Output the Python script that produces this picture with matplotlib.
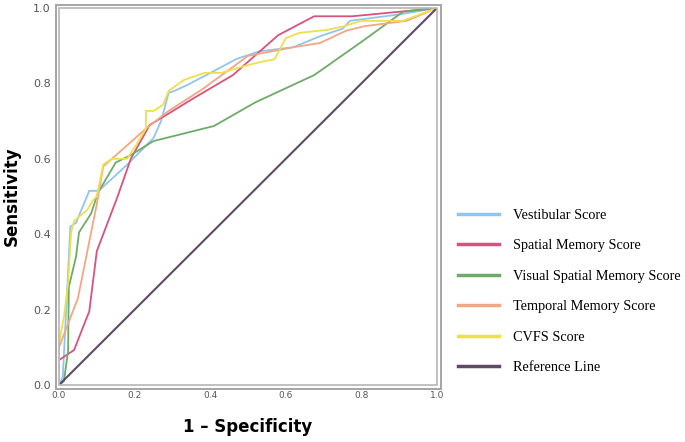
import matplotlib
matplotlib.use("Agg")
import matplotlib.pyplot as plt
from matplotlib.patches import Rectangle

# ROC curve points (1 - specificity, sensitivity)
vest_x = [0, 0.01, 0.03, 0.045, 0.08, 0.105, 0.18, 0.25, 0.27, 0.29, 0.305, 0.34, 0.41, 0.47, 0.53, 0.62, 0.69, 0.75, 0.77, 0.90, 1.0]
vest_y = [0, 0.02, 0.42, 0.43, 0.515, 0.515, 0.584, 0.655, 0.70, 0.775, 0.78, 0.796, 0.833, 0.865, 0.885, 0.896, 0.925, 0.945, 0.966, 0.983, 1.0]

spat_x = [0, 0, 0.04, 0.07, 0.08, 0.10, 0.155, 0.19, 0.24, 0.29, 0.35, 0.46, 0.52, 0.58, 0.675, 0.775, 0.90, 1.0]
spat_y = [0, 0.066, 0.093, 0.17, 0.195, 0.355, 0.50, 0.60, 0.69, 0.72, 0.757, 0.822, 0.875, 0.928, 0.978, 0.978, 0.99, 1.0]

vis_x = [0, 0.013, 0.024, 0.026, 0.045, 0.053, 0.085, 0.103, 0.15, 0.19, 0.25, 0.41, 0.52, 0.675, 0.80, 0.91, 1.0]
vis_y = [0, 0.01, 0.09, 0.26, 0.34, 0.405, 0.455, 0.51, 0.59, 0.61, 0.647, 0.687, 0.75, 0.822, 0.91, 0.99, 1.0]

temp_x = [0, 0, 0.05, 0.10, 0.117, 0.14, 0.23, 0.29, 0.38, 0.50, 0.62, 0.69, 0.76, 0.81, 0.92, 1.0]
temp_y = [0, 0.10, 0.23, 0.48, 0.58, 0.60, 0.68, 0.727, 0.785, 0.873, 0.896, 0.907, 0.94, 0.952, 0.966, 1.0]

cvfs_x = [0, 0, 0.013, 0.024, 0.032, 0.04, 0.075, 0.09, 0.10, 0.117, 0.14, 0.18, 0.20, 0.23, 0.23, 0.25, 0.275, 0.29,
          0.33, 0.385, 0.43, 0.49, 0.53, 0.57, 0.60, 0.635, 0.71, 0.755, 0.80, 0.91, 1.0]
cvfs_y = [0, 0.11, 0.18, 0.27, 0.405, 0.435, 0.465, 0.49, 0.50, 0.585, 0.60, 0.60, 0.63, 0.68, 0.727, 0.727, 0.743, 0.78,
          0.809, 0.828, 0.828, 0.846, 0.856, 0.864, 0.92, 0.934, 0.942, 0.952, 0.966, 0.966, 1.0]

ref_x = [0, 1]
ref_y = [0, 1]

labels = ["Vestibular Score", "Spatial Memory Score", "Visual Spatial Memory Score",
          "Temporal Memory Score", "CVFS Score", "Reference Line"]
colors = ["#92c5ee", "#d9527c", "#6eab68", "#f3a684", "#ede04c", "#5e4a66"]

fig = plt.figure(figsize=(6.85, 4.42), dpi=100)
ax = fig.add_axes([59 / 685, 1 - 385 / 442, 378 / 685, 377 / 442])

series = [(vest_x, vest_y), (spat_x, spat_y), (vis_x, vis_y),
          (temp_x, temp_y), (cvfs_x, cvfs_y), (ref_x, ref_y)]
for (xs, ys), lab, col in zip(series, labels, colors):
    lw = 1.5 if lab == "Reference Line" else 1.3
    ax.plot(xs, ys, color=col, lw=lw, label=lab, solid_joinstyle="miter")

ax.set_xlim(0, 1)
ax.set_ylim(0, 1)
ax.set_xticks([0, 0.2, 0.4, 0.6, 0.8, 1.0])
ax.set_yticks([0, 0.2, 0.4, 0.6, 0.8, 1.0])
ax.set_xticklabels(["0.0", "0.2", "0.4", "0.6", "0.8", "1.0"])
ax.set_yticklabels(["0.0", "0.2", "0.4", "0.6", "0.8", "1.0"])
ax.tick_params(axis="both", length=0, colors="#555555")
ax.tick_params(axis="x", labelsize=6.5, pad=4.5)
ax.tick_params(axis="y", labelsize=8, pad=6)

for s in ax.spines.values():
    s.set_visible(False)

# double grey frame like the SPSS output
ax.add_patch(Rectangle((0, 0), 1, 1, transform=ax.transAxes, fill=False,
                       ec="#b5b5b5", lw=1.2, clip_on=False, zorder=3))
dx, dy = 3.5 / 378, 3.5 / 377
ax.add_patch(Rectangle((-dx, -dy), 1 + 2 * dx, 1 + 2 * dy, transform=ax.transAxes, fill=False,
                       ec="#a5a5a5", lw=1.4, clip_on=False, zorder=3))

ax.set_xlabel("1 – Specificity", fontsize=12, fontweight="bold", labelpad=13)
ax.set_ylabel("Sensitivity", fontsize=12, fontweight="bold", labelpad=9)

leg = fig.legend(loc="upper left", bbox_to_anchor=(458 / 685, 1 - 209 / 442),
                 frameon=False, borderpad=0, borderaxespad=0,
                 prop={"family": "Liberation Serif", "size": 10.3},
                 labelspacing=1.22, handlelength=2.9, handletextpad=0.95)
for l in leg.get_lines():
    l.set_linewidth(2.5)

fig.savefig("out.png", dpi=100)
